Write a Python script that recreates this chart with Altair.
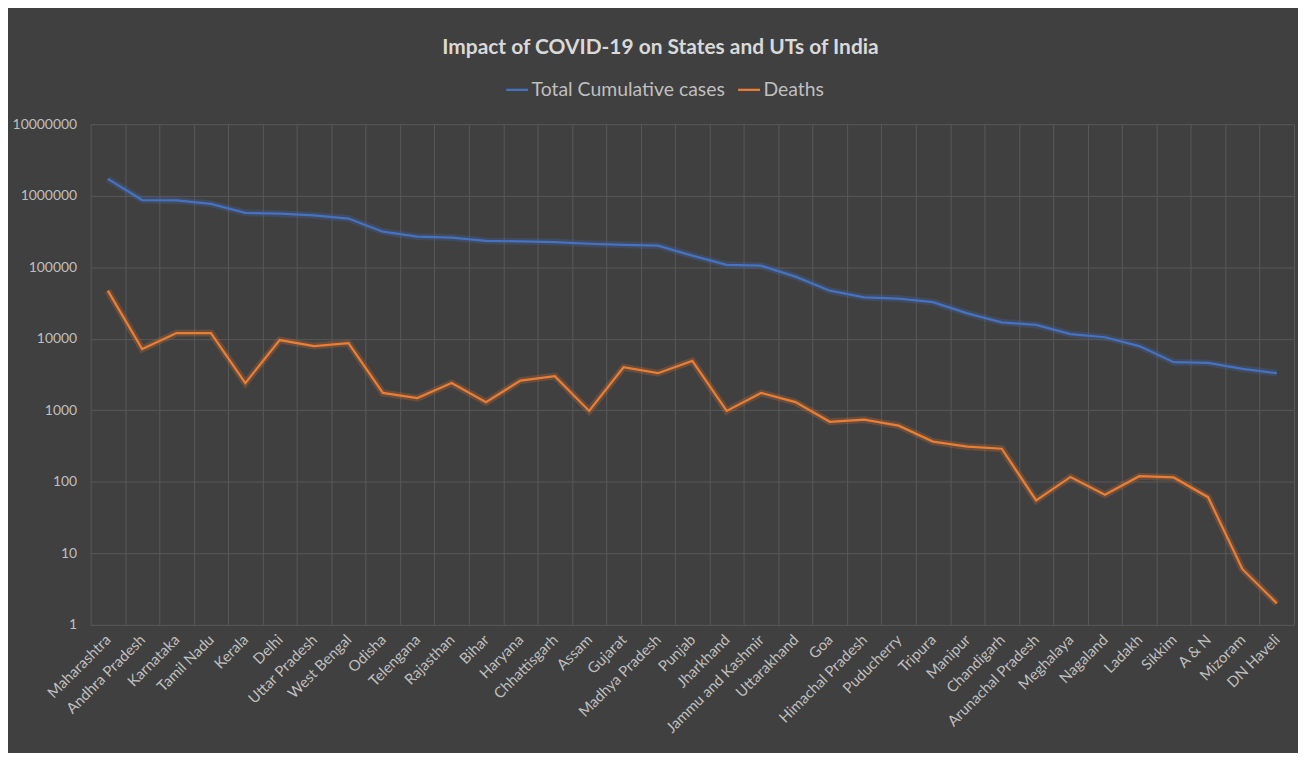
import altair as alt
import pandas as pd

states = ["Maharashtra", "Andhra Pradesh", "Karnataka", "Tamil Nadu", "Kerala", "Delhi",
          "Uttar Pradesh", "West Bengal", "Odisha", "Telengana", "Rajasthan", "Bihar",
          "Haryana", "Chhattisgarh", "Assam", "Gujarat", "Madhya Pradesh", "Punjab",
          "Jharkhand", "Jammu and Kashmir", "Uttarakhand", "Goa", "Himachal Pradesh",
          "Puducherry", "Tripura", "Manipur", "Chandigarh", "Arunachal Pradesh",
          "Meghalaya", "Nagaland", "Ladakh", "Sikkim", "A & N", "Mizoram", "DN Haveli"]

cases = [1720000, 870000, 860000, 770000, 577000, 560000, 530000, 480000, 314000, 268000,
         260000, 233000, 230000, 225000, 213000, 206000, 200000, 145000, 108000, 105000,
         74000, 47000, 38000, 36500, 32500, 22700, 17000, 15600, 11600, 10500,
         7900, 4700, 4600, 3800, 3300]

deaths = [47000, 7200, 12000, 12000, 2400, 9600, 7900, 8700, 1750, 1480,
          2400, 1300, 2600, 3000, 980, 4000, 3300, 4900, 980, 1750,
          1300, 690, 740, 610, 365, 310, 290, 55, 117, 66,
          120, 115, 61, 6, 2]

series_names = ["Total Cumulative cases", "Deaths"]
series_colors = ["#4472C4", "#ED7D31"]
y_ticks = [1, 10, 100, 1000, 10000, 100000, 1000000, 10000000]

n = len(states)
df = pd.DataFrame({
    "State": states * 2,
    "Series": [series_names[0]] * n + [series_names[1]] * n,
    "Value": cases + deaths,
    "Order": list(range(n)) * 2,
})

FONT = "Lato"
LABEL = "#bfbfbf"
GRID = "#595959"

x = alt.X(
    "State:N",
    scale=alt.Scale(type="band", domain=states, paddingInner=0, paddingOuter=0),
    bandPosition=0.5,
    axis=alt.Axis(title=None, labelAngle=-45, tickBand="extent", grid=True,
                  gridColor=GRID, gridWidth=1, ticks=False, domain=False,
                  labelColor=LABEL, labelFont=FONT, labelFontSize=15,
                  labelAlign="right", labelBaseline="middle", labelPadding=12),
)
y = alt.Y(
    "Value:Q",
    scale=alt.Scale(type="log", domain=[1, 10000000]),
    axis=alt.Axis(title=None, values=y_ticks, format="d", grid=True, gridColor=GRID,
                  gridWidth=1, ticks=False, domain=False, labelColor=LABEL,
                  labelFont=FONT, labelFontSize=14, labelPadding=14),
)

legend = alt.Legend(orient="none", legendX=416, legendY=-47,
                    direction="horizontal", title=None,
                    symbolType="stroke", symbolSize=484, symbolOpacity=1,
                    symbolStrokeWidth=2.25, labelColor=LABEL,
                    labelFont=FONT, labelFontSize=19.5, labelLimit=400,
                    columnPadding=8, labelOffset=2)
color = alt.Color("Series:N", scale=alt.Scale(domain=series_names, range=series_colors),
                  sort=series_names, legend=legend)

glow = alt.Chart(df).mark_line(strokeWidth=7, opacity=0.22).encode(
    x=x, y=y, order="Order:Q", color=color,
)

lines = alt.Chart(df).mark_line(strokeWidth=2.25).encode(
    x=x, y=y, order="Order:Q", color=color,
)

chart = alt.layer(glow, lines).properties(
    width=1209, height=503,
    padding={"left": 83, "top": 115, "right": 4, "bottom": 127},
    autosize=alt.AutoSizeParams(type="none"),
    background="#404040",
    title=alt.TitleParams("Impact of COVID-19 on States and UTs of India",
                          font=FONT, fontSize=21, fontWeight="bold",
                          color="#d9d9d9", anchor="middle", offset=20, dx=-32),
).configure_view(stroke=None)

chart.save("out.html", embed_options={"renderer": "svg", "actions": False})
